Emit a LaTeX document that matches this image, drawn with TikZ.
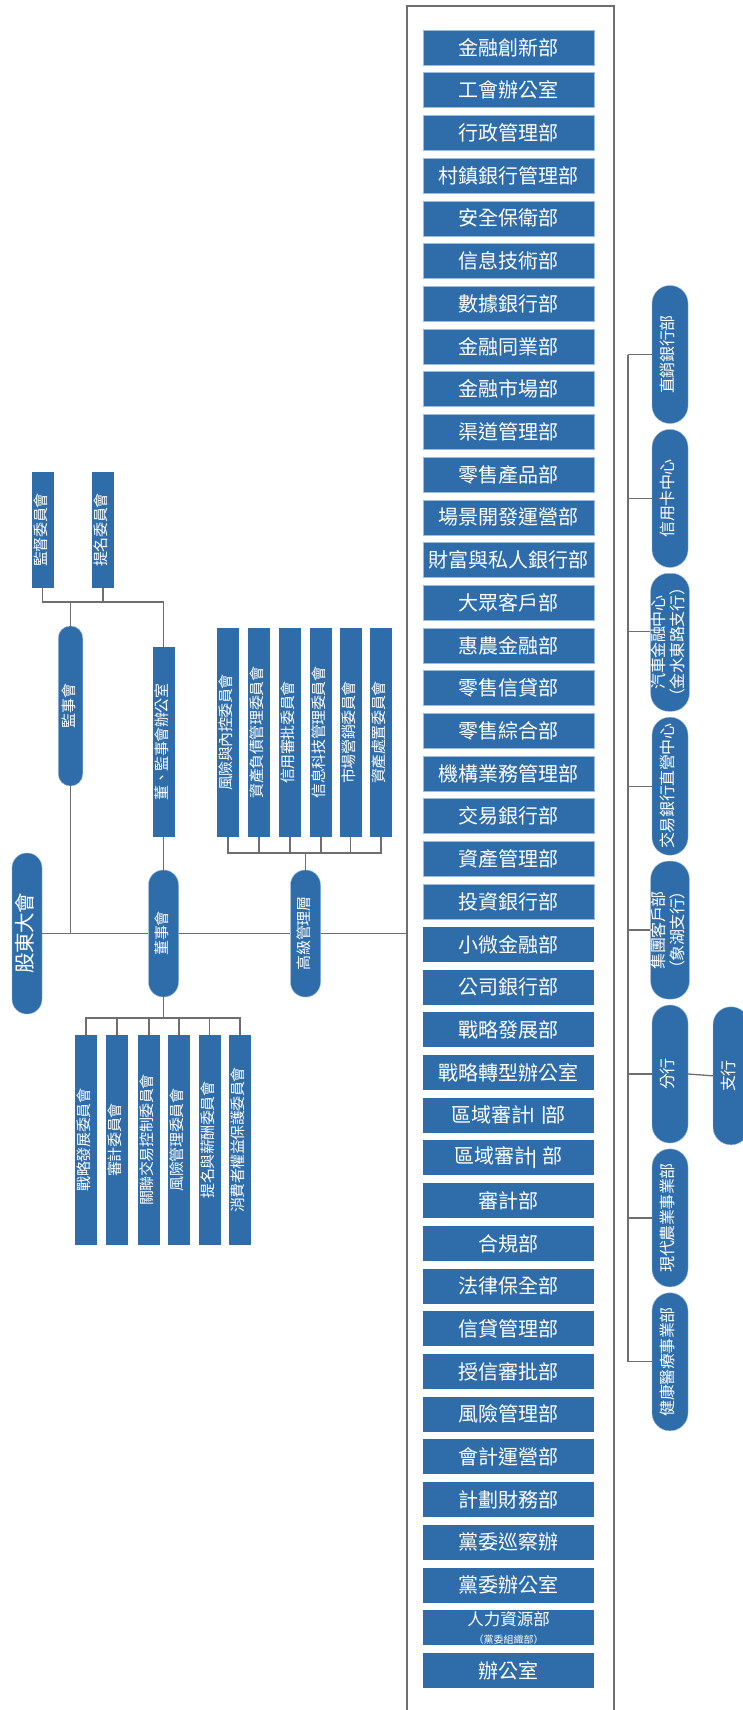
\documentclass[tikz,border=0pt]{standalone}
\usepackage{fontspec}
\usepackage{graphicx}
\setmainfont{Noto Sans CJK TC}
\newfontfamily\lsfont[LetterSpace=-3]{Noto Sans CJK TC}
\newfontfamily\dpfont{Noto Sans CJK TC}
\definecolor{myblue}{HTML}{2E6DA9}
\definecolor{lnk}{HTML}{6E6E6E}
\definecolor{edgeblue}{HTML}{9DBBDD}
\newcommand{\vtxt}[1]{\rotatebox{90}{\begin{tabular}{@{}c@{}}#1\end{tabular}}}
\newcommand{\rotc}[1]{\rotatebox[origin=c]{90}{#1}}
\tikzset{
  blk/.style={fill=myblue, draw=none, text=white, inner sep=0pt, align=center,
    font=\lsfont\fontsize{15}{17}\selectfont},
  pill/.style={blk, draw=edgeblue, line width=0.4pt},
  vbox/.style={blk, minimum width=22pt},
  dept/.style={blk, minimum width=171pt, minimum height=35pt,
    font=\dpfont\fontsize{20}{21}\selectfont},
  deptE/.style={dept, draw=edgeblue, line width=0.6pt},
  rpill/.style={pill, minimum width=36pt, minimum height=138pt, rounded corners=17.8pt,
    font=\lsfont\fontsize{16}{19}\selectfont},
  conn/.style={draw=lnk, line width=1.3pt},
}
\begin{document}
\begin{tikzpicture}[x=1pt,y=-1pt]
\path[use as bounding box, clip] (0,0) rectangle (743,1710);
\fill[white] (0,0) rectangle (743,1710);

% big container
\node[draw=lnk, line width=2pt, minimum width=207pt, minimum height=1730pt, inner sep=0pt, anchor=north west] (big) at (406,5) {};

% left pills
\node[pill, minimum width=30pt, minimum height=161pt, rounded corners=14.8pt,
  font=\lsfont\fontsize{20.5}{22}\selectfont] (gd) at (27,933.5) {\vtxt{股東大會}};
\node[pill, minimum width=24.5pt, minimum height=160pt, rounded corners=12.1pt] (js) at (70.5,706) {\vtxt{監事會}};
\node[pill, minimum width=30pt, minimum height=127pt, rounded corners=14.8pt] (ds) at (163.5,933.5) {\vtxt{董事會}};
\node[pill, minimum width=30pt, minimum height=127pt, rounded corners=14.8pt] (gj) at (305.5,933.5) {\vtxt{高級管理層}};

% top committees
\node[vbox, minimum height=116pt] (jd) at (42.5,530) {\vtxt{監督委員會}};
\node[vbox, minimum height=116pt] (tm) at (103,530) {\vtxt{提名委員會}};
\node[vbox, minimum height=190pt] (djb) at (163.5,742) {\vtxt{董、監事會辦公室}};

% board committees (below)
\foreach \n/\x/\t in {b1/86/戰略發展委員會, b2/117/審計委員會, b3/149/關聯交易控制委員會,
  b4/179/風險管理委員會, b5/209.5/提名與薪酬委員會, b6/240/消費者權益保護委員會}
  \node[vbox, minimum height=210pt] (\n) at (\x,1140) {\vtxt{\t}};

% senior management committees (above)
\foreach \n/\x/\t in {u1/228/風險與內控委員會, u2/259/資產負債管理委員會, u3/290/信用審批委員會,
  u4/321/信息科技管理委員會, u5/350.5/市場營銷委員會, u6/381/資產處置委員會}
  \node[vbox, minimum height=209pt] (\n) at (\x,732.5) {\vtxt{\t}};

% departments
\foreach [count=\i] \t in {金融創新部, 工會辦公室, 行政管理部, 村鎮銀行管理部, 安全保衛部,
  信息技術部, 數據銀行部, 金融同業部, 金融市場部, 渠道管理部, 零售產品部, 場景開發運營部,
  財富與私人銀行部, 大眾客戶部, 惠農金融部, 零售信貸部, 零售綜合部, 機構業務管理部,
  交易銀行部, 資產管理部, 投資銀行部}
  \node[deptE] (d\i) at (508.5,{47.5+(\i-1)*42.71}) {\t};
\foreach [count=\i from 22] \t in {小微金融部, 公司銀行部, 戰略發展部, 戰略轉型辦公室,
  {區域審計\rotc{二}部}, {區域審計\rotc{一}部}, 審計部, 合規部, 法律保全部, 信貸管理部,
  授信審批部, 風險管理部, 會計運營部, 計劃財務部, 黨委巡察辦, 黨委辦公室,
  {{\fontsize{16.5}{15}\selectfont 人力資源部}\\[-3pt]{\fontsize{10}{10}\selectfont （黨委組織部）}},
  辦公室}
  \node[dept] (d\i) at (508.5,{47.5+(\i-1)*42.71}) {\t};

% right pills
\foreach [count=\i] \t in {直銷銀行部, 信用卡中心, {汽車金融中心\\（金水東路支行）},
  交易銀行直營中心, {集團客戶部\\（象湖支行）}, 分行, 現代農業事業部, 健康醫療事業部}
  \node[rpill] (r\i) at (670,{354.5+(\i-1)*143.9}) {\vtxt{\t}};
\node[rpill] (zh) at (731,1075.8) {\vtxt{支行}};

% ---- connectors ----
\coordinate (topY) at (0,602);
\coordinate (botY) at (0,1018);
\coordinate (upY) at (0,853);
\coordinate (vx) at (628,0);
\coordinate (bigL) at (big.west |- gd.east);

\draw[conn] (gd.east) -- (ds.west);
\draw[conn] (ds.east) -- (gj.west);
\draw[conn] (gj.east) -- (bigL);
\draw[conn] (js.south) -- (js.south |- gd.east);

\draw[conn] (jd.south) -- (jd.south |- topY) -| (djb.north);
\draw[conn] (tm.south) -- (tm.south |- topY);
\draw[conn] (js.north) -- (js.north |- topY);
\draw[conn] (djb.south) -- (ds.north);

\draw[conn] (ds.south) -- (ds.south |- botY);
\draw[conn] (b1.north) -- (b1.north |- botY) -- (b6.north |- botY) -- (b6.north);
\foreach \n in {b2,b3,b4,b5} \draw[conn] (\n.north) -- (\n.north |- botY);

\draw[conn] (gj.north) -- (gj.north |- upY);
\draw[conn] (u1.south) -- (u1.south |- upY) -- (u6.south |- upY) -- (u6.south);
\foreach \n in {u2,u3,u4,u5} \draw[conn] (\n.south) -- (\n.south |- upY);

\draw[conn] (r1.west -| vx) -- (r8.west -| vx);
\foreach \n in {r1,r2,r4,r5,r6,r7,r8} \draw[conn] (\n.west -| vx) -- (\n.west);
\draw[conn] ([yshift=10.5pt]r3.west -| vx) -- ([yshift=10.5pt]r3.west);
\draw[conn] (r6.east) -- (zh.west);
\end{tikzpicture}
\end{document}
